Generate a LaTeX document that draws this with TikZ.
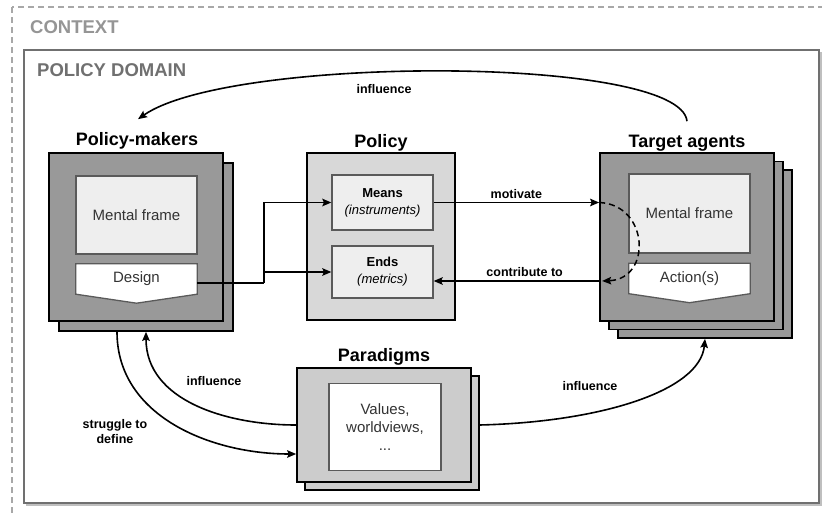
\documentclass[tikz,border=0pt]{standalone}
\usepackage{fontspec}
\setmainfont{Liberation Sans}
\usetikzlibrary{arrows.meta,calc}

\definecolor{agentfill}{HTML}{999999}
\definecolor{policyfill}{HTML}{D8D8D8}
\definecolor{paradigmfill}{HTML}{CCCCCC}
\definecolor{innerfill}{HTML}{EEEEEE}
\definecolor{innerline}{HTML}{5A5A5A}
\definecolor{innertext}{HTML}{333333}
\definecolor{domainline}{HTML}{707070}
\definecolor{contextline}{HTML}{A8A8A8}
\definecolor{contexttext}{HTML}{959595}

\begin{document}
\begin{tikzpicture}[x=1pt,y=-1pt,
  outerbox/.style={draw=black, line width=1.7pt, minimum width=#1, inner sep=0pt},
  agentbox/.style={outerbox=174pt, fill=agentfill, minimum height=168pt},
  innerbox/.style={draw=innerline, line width=1.3pt, fill=innerfill, inner sep=0pt,
    text=innertext, font=\fontsize{15}{18}\selectfont, align=center},
  pointbox/.style={draw=innerline, line width=1.3pt, fill=white},
  anchorbox/.style={minimum width=121pt, minimum height=30pt, inner sep=0pt},
  boxtext/.style={text=innertext, font=\fontsize{15}{18}\selectfont},
  title/.style={font=\bfseries\fontsize{18}{21}\selectfont, anchor=base, inner sep=0pt},
  elabel/.style={font=\bfseries\fontsize{12.5}{15}\selectfont, align=center},
  conn/.style={line width=1.6pt, -{Stealth[length=9pt,width=7.5pt,inset=1.5pt]}},
  plain/.style={line width=1.6pt}
]
\useasboundingbox (0,0) rectangle (822,516);

% context frame (dashed, runs off the page to the right and below)
\begin{scope}
  \clip (0,0) rectangle (822,516);
  \draw[contextline, line width=1.6pt, dash pattern=on 6pt off 4pt] (12,7) rectangle (850,545);
\end{scope}
\node[anchor=west, text=contexttext, font=\bfseries\fontsize{18.5}{20}\selectfont, inner sep=0pt]
  (ctxlbl) at (30,27) {CONTEXT};

% policy domain frame with a light shadow
\draw[line width=1.5pt, black!25] (26,505) -- (821,505) -- (821,52);
\draw[line width=1.6pt, domainline] (24,50) rectangle (819,503);
\node[anchor=west, text=domainline, font=\bfseries\fontsize{18.5}{20}\selectfont, inner sep=0pt]
  (domlbl) at (37,70) {POLICY DOMAIN};

% ---- policy-makers ----
\node[agentbox] (pmb) at (146,247) {};
\node[agentbox] (pm) at (136,237) {};
\node[title] (pmlbl) at (137,146) {Policy-makers};
\node[innerbox, minimum width=121pt, minimum height=78pt] (pmmf) at (136.5,215) {Mental frame};
\node[anchorbox] (design) at (136.5,279) {};
\draw[pointbox] (design.north west) -- (design.north east) -- (design.south east)
  -- ($(design.south)+(0,9)$) -- (design.south west) -- cycle;
\node[boxtext] (designlbl) at (design) {Design};

% ---- policy ----
\node[outerbox=148pt, fill=policyfill, minimum height=167pt] (pol) at (381,236.5) {};
\node[title] (pollbl) at (381,147) {Policy};
\node[innerbox, minimum width=101pt, minimum height=55pt, text=black,
  font=\fontsize{13}{16}\selectfont] (means) at (382.5,202.5)
  {\textbf{Means}\\[1pt]\textit{(instruments)}};
\node[innerbox, minimum width=101pt, minimum height=52pt, text=black,
  font=\fontsize{13}{16}\selectfont] (ends) at (382.5,272)
  {\textbf{Ends}\\[1pt]\textit{(metrics)}};

% ---- target agents ----
\node[agentbox] (ta3) at (705,254) {};
\node[agentbox] (ta2) at (696,245.5) {};
\node[agentbox] (ta) at (687,237) {};
\node[title] (talbl) at (687,147) {Target agents};
\node[innerbox, minimum width=121pt, minimum height=79pt] (tamf) at (689.5,213.5) {Mental frame};
\node[anchorbox] (act) at (689.5,278.5) {};
\draw[pointbox] (act.north west) -- (act.north east) -- (act.south east)
  -- ($(act.south)+(0,9)$) -- (act.south west) -- cycle;
\node[boxtext] (actlbl) at (act) {Action(s)};

% ---- paradigms ----
\node[outerbox=174pt, fill=paradigmfill, minimum height=114pt] (parab) at (392,433) {};
\node[outerbox=174pt, fill=paradigmfill, minimum height=114pt] (para) at (384,425) {};
\node[title] (paralbl) at (384,361) {Paradigms};
\node[innerbox, fill=white, minimum width=112pt, minimum height=87pt] (vals) at (385,427)
  {Values,\\worldviews,\\...};

% ---- connectors ----
% design feeds both means and ends
\coordinate (designout) at ([yshift=-4pt]design.east);
\coordinate (split) at ($(designout)+(67,0)$);
\draw[plain] (designout) -- (split);
\draw[conn] (split) |- (means.west);
\coordinate (endsin) at (split |- ends.west);
\draw[conn] (endsin) -- (ends.west);

% means motivate target agents
\coordinate (motin) at (ta.west |- means.east);
\draw[conn] (means.east) -- (motin) node[elabel, midway, above=0pt] {motivate};

% target agents contribute to ends
\coordinate (ctb) at ([yshift=-9pt]ends.east);
\coordinate (ctbout) at (ta.west |- ctb);
\draw[conn] (ctbout) -- (ctb) node[elabel, pos=0.45, above=0pt] {contribute to};

% motivation passes through the mental frame into action
\draw[line width=1.5pt, dash pattern=on 6pt off 4pt,
  -{Stealth[length=9pt,width=7.5pt,inset=1.5pt]}]
  (motin) .. controls +(50,2) and +(50,-2) .. ([xshift=3pt]ctbout);

% target agents influence policy-makers
\draw[conn] ([yshift=31pt]ta.north) .. controls +(-7,-66) and +(92,-64) ..
  ([xshift=2pt,yshift=33pt]pm.north)
  node[elabel, pos=0.58, yshift=-17pt] {influence};

% paradigms influence policy-makers
\draw[conn] (para.west) to[out=180, in=-90, looseness=1] (pmb.south);
\node[elabel] (inflL) at (214,381) {influence};

% policy-makers struggle to define paradigms
\draw[conn] ([xshift=-29pt]pmb.south) to[out=-90, in=180, looseness=1]
  ([yshift=-29pt]para.west);
\node[elabel, text height=9pt] (struggle) at (115,439) {struggle to\\define};

% paradigms influence target agents
\draw[conn] (parab.east |- para.east) .. controls +(121,-3) and +(-5,52) .. (ta3.south);
\node[elabel] (inflR) at (590,386) {influence};

\end{tikzpicture}
\end{document}
